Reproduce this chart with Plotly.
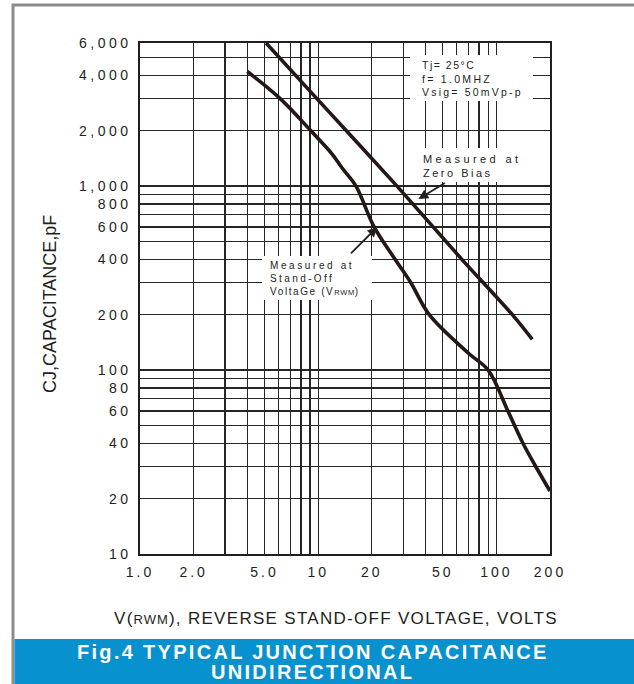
import numpy as np
import plotly.graph_objects as go

# ---------------- data ----------------
zero_bias_volts = [5.1, 9.8, 27.7, 64, 123, 159]
zero_bias_pf = [6000, 3000, 1000, 400, 200, 147]

standoff_volts = [4.0, 6.1, 9.1, 12, 13.8, 16.3, 20.6, 27, 33, 42, 70, 90, 116, 141, 166, 200]
standoff_pf = [4200, 3000, 2000, 1490, 1235, 1000, 600, 400, 300, 200, 123, 100, 60, 40, 30, 22]

x_grid_values = [1, 2, 3, 4, 5, 6, 7, 8, 9, 10, 20, 30, 40, 50, 60, 70, 80, 90, 100, 200]
x_label_values = [1, 2, 5, 10, 20, 50, 100, 200]
x_label_text = ["1.0", "2.0", "5.0", "10", "20", "50", "100", "200"]

y_grid_values = [10, 20, 30, 40, 50, 60, 70, 80, 90, 100, 200, 300, 400, 500, 600, 700, 800, 900,
                 1000, 2000, 3000, 4000, 5000, 6000]
y_label_values = [10, 20, 40, 60, 80, 100, 200, 400, 600, 800, 1000, 2000, 4000, 6000]
y_label_text = ["10", "20", "40", "60", "80", "100", "200", "400", "600", "800",
                "1,000", "2,000", "4,000", "6,000"]

# ---------------- layout constants ----------------
W, H = 634, 684
ML, MR, MT, MB = 140, 84, 43, 130
PW, PH = W - ML - MR, H - MT - MB
INK = "#231f20"
FONT = "Liberation Sans, Arial, sans-serif"


def px(x):
    return (x - ML) / PW


def py(y):
    return (MT + PH - y) / PH


def spaced(t, s):
    return f'<span style="letter-spacing:{s}px">{t}</span>'


def ticktext(values, labels, grid, s):
    lab = dict(zip(values, labels))
    return [spaced(lab[v], s) if v in lab else "" for v in grid]


fig = go.Figure()
fig.add_trace(go.Scatter(x=zero_bias_volts, y=zero_bias_pf, mode="lines",
                         line=dict(color="#231815", width=3.6, shape="spline", smoothing=0.6),
                         showlegend=False, hoverinfo="skip"))
fig.add_trace(go.Scatter(x=standoff_volts, y=standoff_pf, mode="lines",
                         line=dict(color="#231815", width=3.6, shape="spline", smoothing=1.0),
                         showlegend=False, hoverinfo="skip"))

axis_common = dict(type="log", showgrid=True, gridcolor="#262626", gridwidth=1.3,
                   showline=True, mirror=True, linecolor=INK, linewidth=1.6,
                   zeroline=False, ticks="", tickmode="array",
                   tickfont=dict(family=FONT, size=14, color=INK))

fig.update_xaxes(**axis_common, range=[0, np.log10(200)],
                 tickvals=x_grid_values,
                 ticktext=ticktext(x_label_values, x_label_text, x_grid_values, 3),
                 ticklabelstandoff=5)
fig.update_yaxes(**axis_common, range=[1, np.log10(6000)],
                 tickvals=y_grid_values,
                 ticktext=ticktext(y_label_values, y_label_text, y_grid_values, 3.5),
                 ticklabelstandoff=4)

shapes = []
# outer grey frame (top and left)
shapes.append(dict(type="line", xref="paper", yref="paper", x0=px(12), x1=px(640), y0=py(5), y1=py(5),
                   line=dict(color="#8c8c8c", width=3)))
shapes.append(dict(type="line", xref="paper", yref="paper", x0=px(13), x1=px(13), y0=py(4), y1=py(700),
                   line=dict(color="#8c8c8c", width=3)))
# blue caption band
shapes.append(dict(type="rect", xref="paper", yref="paper", x0=px(14.5), x1=px(650), y0=py(639), y1=py(700),
                   fillcolor="#0791cf", line=dict(width=0), layer="above"))
# white boxes behind labels
for (x0, x1, y0, y1) in [(410, 533, 55, 101), (415, 520, 148, 182), (262, 372, 256, 300)]:
    shapes.append(dict(type="rect", xref="paper", yref="paper", x0=px(x0), x1=px(x1),
                       y0=py(y1), y1=py(y0), fillcolor="white", line=dict(width=0), layer="above"))

ann = []
# condition box
ann.append(dict(xref="paper", yref="paper", x=px(419.5), y=py(78.5), xanchor="left", yanchor="middle",
                align="left", showarrow=False,
                font=dict(family=FONT, size=10.5, color=INK),
                text=spaced("Tj= 25°C", 1.5) + "<br>" + spaced("f= 1.0MHZ", 2.3) + "<br>"
                + spaced("Vsig= 50mVp-p", 2.2)))
# zero-bias label
ann.append(dict(xref="paper", yref="paper", x=px(421), y=py(165.5), xanchor="left", yanchor="middle",
                align="left", showarrow=False,
                font=dict(family=FONT, size=11, color=INK),
                text=spaced("Measured at", 3.4) + "<br>" + spaced("Zero Bias", 2.5)))
# stand-off label
ann.append(dict(xref="paper", yref="paper", x=px(267.5), y=py(278), xanchor="left", yanchor="middle",
                align="left", showarrow=False,
                font=dict(family=FONT, size=10, color=INK),
                text=spaced("Measured at", 2.6) + "<br>" + spaced("Stand-Off", 2.4) + "<br>"
                + '<span style="letter-spacing:1.6px">VoltaGe (V<span style="font-size:7.5px;'
                  'letter-spacing:0.6px">RWM</span>) </span>'))
# arrows
ann.append(dict(x=np.log10(36.5), y=np.log10(850), xref="x", yref="y", text="", showarrow=True,
                ax=28, ay=-17, arrowhead=2, arrowsize=1.1, arrowwidth=1.8, arrowcolor=INK, standoff=0))
ann.append(dict(x=np.log10(21.5), y=np.log10(600), xref="x", yref="y", text="", showarrow=True,
                ax=-28, ay=28, arrowhead=2, arrowsize=1.1, arrowwidth=1.8, arrowcolor=INK, standoff=0))
# axis titles
ann.append(dict(xref="paper", yref="paper", x=px(336), y=py(618), xanchor="center", yanchor="middle",
                showarrow=False, font=dict(family=FONT, size=17, color=INK),
                text=spaced("V(", 1.3) + '<span style="font-size:13px;letter-spacing:1px">RWM</span>'
                + spaced("), REVERSE STAND-OFF VOLTAGE, VOLTS", 1.3)))
ann.append(dict(xref="paper", yref="paper", x=px(50), y=py(304), xanchor="center", yanchor="middle",
                textangle=-90, showarrow=False, font=dict(family=FONT, size=18, color=INK),
                text="CJ,CAPACITANCE,pF"))
# caption
ann.append(dict(xref="paper", yref="paper", x=px(313), y=py(652), xanchor="center", yanchor="middle",
                showarrow=False, font=dict(family=FONT, size=20, color="white", weight="bold"),
                text=spaced("Fig.4 TYPICAL JUNCTION CAPACITANCE", 2.3)))
ann.append(dict(xref="paper", yref="paper", x=px(312), y=py(672), xanchor="center", yanchor="middle",
                showarrow=False, font=dict(family=FONT, size=20, color="white", weight="bold"),
                text=spaced("UNIDIRECTIONAL", 2.3)))

fig.update_layout(width=W, height=H, margin=dict(l=ML, r=MR, t=MT, b=MB, pad=0),
                  paper_bgcolor="white", plot_bgcolor="white",
                  shapes=shapes, annotations=ann, showlegend=False)

fig.write_html("out.html", config={"displayModeBar": False, "staticPlot": True},
               post_script="document.body.style.margin='0';document.body.style.padding='0';"
                           "document.documentElement.style.overflow='hidden';")
